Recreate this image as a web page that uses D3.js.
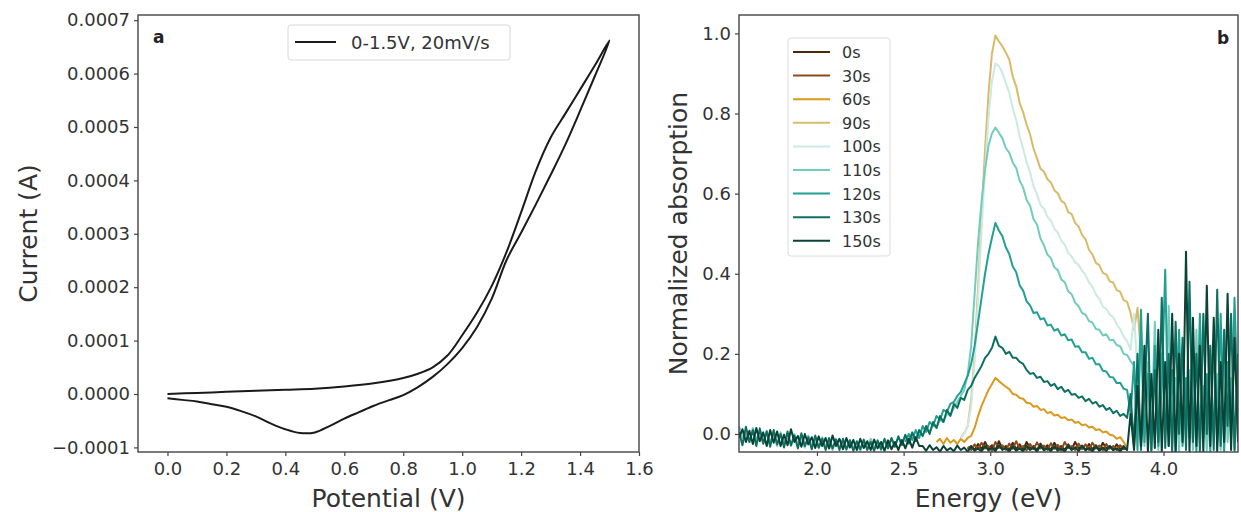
<!DOCTYPE html>
<html><head><meta charset="utf-8">
<script src="https://cdn.jsdelivr.net/npm/d3@7"></script>
<style>
body{margin:0;background:#fff;}
text{font-family:"DejaVu Sans",sans-serif;}
</style></head><body>
<svg id="chart" width="1241" height="512"></svg>
<script>
// ---------- Panel a: cyclic voltammogram ----------
const cvLegend = "0-1.5V, 20mV/s";
const cvForwardV = [0,0.1,0.2,0.3,0.4,0.5,0.6,0.7,0.8,0.85,0.9,0.95,1.0,1.05,1.1,1.15,1.2,1.25,1.3,1.35,1.4,1.45,1.5];
const cvForwardI = [0.0e-4,0.02e-4,0.04e-4,0.06e-4,0.08e-4,0.10e-4,0.14e-4,0.20e-4,0.30e-4,0.38e-4,0.50e-4,0.72e-4,1.10e-4,1.52e-4,2.02e-4,2.65e-4,3.40e-4,4.18e-4,4.80e-4,5.25e-4,5.70e-4,6.15e-4,6.62e-4];
const cvBackwardV = [1.5,1.45,1.4,1.35,1.3,1.25,1.2,1.15,1.1,1.05,1.0,0.95,0.9,0.85,0.8,0.75,0.7,0.65,0.6,0.55,0.5,0.45,0.4,0.35,0.3,0.25,0.2,0.15,0.1,0.05,0.0];
const cvBackwardI = [6.62e-4,5.95e-4,5.30e-4,4.67e-4,4.10e-4,3.55e-4,3.02e-4,2.50e-4,1.78e-4,1.25e-4,0.86e-4,0.56e-4,0.32e-4,0.13e-4,-0.02e-4,-0.12e-4,-0.22e-4,-0.34e-4,-0.46e-4,-0.60e-4,-0.72e-4,-0.73e-4,-0.66e-4,-0.55e-4,-0.42e-4,-0.32e-4,-0.24e-4,-0.19e-4,-0.14e-4,-0.11e-4,-0.08e-4];
const cvXTicks = [0.0,0.2,0.4,0.6,0.8,1.0,1.2,1.4,1.6];
const cvYTicks = [-0.0001,0.0,0.0001,0.0002,0.0003,0.0004,0.0005,0.0006,0.0007];

// ---------- Panel b: absorption spectra (0.02 eV sampling from each start energy) ----------
const specLabels = ["0s","30s","60s","90s","100s","110s","120s","130s","150s"];
const specStart  = [2.87, 2.87, 2.69, 2.83, 2.83, 1.55, 2.51, 1.55, 1.55];
const specStep = 0.02;
const abs0s = [-0.038,-0.03,-0.04,-0.025,-0.038,-0.02,-0.036,-0.028,-0.04,-0.018,-0.036,-0.03,-0.04,-0.022,-0.038,-0.026,-0.04,-0.02,-0.035,-0.03,-0.04,-0.024,-0.038,-0.028,-0.04,-0.022,-0.036,-0.03,-0.04,-0.026,-0.038,-0.02,-0.036,-0.03,-0.04,-0.025,-0.038,-0.028,-0.04,-0.022,-0.036,-0.03,-0.04,-0.026,-0.038,-0.03,-0.04];
const abs30s = [-0.032,-0.04,-0.026,-0.038,-0.022,-0.036,-0.03,-0.042,-0.02,-0.035,-0.028,-0.04,-0.024,-0.037,-0.018,-0.036,-0.03,-0.041,-0.025,-0.038,-0.021,-0.036,-0.029,-0.04,-0.023,-0.037,-0.027,-0.041,-0.02,-0.035,-0.03,-0.04,-0.024,-0.038,-0.026,-0.04,-0.022,-0.036,-0.029,-0.041,-0.025,-0.037,-0.03,-0.04,-0.028,-0.038,-0.035];
const abs60s = [-0.02,-0.012,-0.025,-0.01,-0.022,-0.015,-0.025,-0.012,-0.02,-0.01,-0.005,0.015,0.045,0.07,0.09,0.11,0.125,0.14,0.132,0.125,0.118,0.112,0.1,0.098,0.09,0.088,0.078,0.077,0.068,0.07,0.06,0.062,0.052,0.055,0.046,0.048,0.04,0.042,0.034,0.036,0.028,0.03,0.022,0.024,0.016,0.018,0.01,0.012,0.004,0.006,-0.002,-0.004,-0.012,-0.008,-0.02,-0.035];
const abs90s = [-0.01,0.002,0.02,0.085,0.2,0.37,0.55,0.71,0.85,0.95,0.995,0.98,0.968,0.952,0.935,0.892,0.868,0.826,0.803,0.772,0.748,0.712,0.688,0.662,0.655,0.636,0.628,0.608,0.601,0.582,0.576,0.554,0.549,0.527,0.518,0.497,0.486,0.46,0.448,0.427,0.421,0.402,0.398,0.381,0.378,0.359,0.355,0.334,0.33,0.302,0.26,0.315,0.2];
const abs100s = [-0.01,0.0,0.02,0.07,0.18,0.34,0.51,0.66,0.79,0.88,0.925,0.918,0.902,0.876,0.852,0.812,0.784,0.742,0.713,0.678,0.653,0.618,0.598,0.572,0.563,0.542,0.533,0.512,0.503,0.482,0.473,0.452,0.443,0.428,0.422,0.408,0.397,0.378,0.368,0.348,0.338,0.318,0.312,0.298,0.292,0.273,0.262,0.243,0.232,0.21,0.3,0.15,0.28,0.1,0.22,0.05,0.18,0.0];
const abs110s = [0.02,-0.01,0.0,-0.02,0.015,-0.015,0.005,-0.025,0.008,-0.02,-0.002,-0.03,0.004,-0.025,-0.006,-0.03,0.0,-0.026,-0.01,-0.034,-0.004,-0.03,-0.014,-0.036,-0.008,-0.03,-0.018,-0.04,-0.012,-0.032,-0.02,-0.04,-0.015,-0.034,-0.022,-0.042,-0.018,-0.036,-0.012,-0.034,-0.02,-0.04,-0.016,-0.034,-0.012,-0.03,-0.008,-0.026,-0.004,-0.02,0.002,-0.012,0.008,
 -0.004,0.015,0.005,0.025,0.015,0.035,0.03,0.05,0.048,0.065,0.08,0.095,0.11,0.15,0.22,0.35,0.48,0.58,0.66,0.72,0.75,0.765,0.752,0.738,0.714,0.702,0.678,0.664,0.632,0.615,0.584,0.57,0.536,0.523,0.488,0.471,0.448,0.439,0.416,0.409,0.386,0.379,0.356,0.349,0.328,0.319,0.302,0.298,0.282,0.278,0.262,0.26,0.246,0.249,0.234,0.235,0.222,0.219,0.2,0.197,0.182,0.17,
 0.05,0.25,-0.03,0.18,-0.01,0.28,-0.04,0.2,0.0,0.32,-0.03,0.14,-0.045,0.22,-0.01,0.16,-0.04,0.26,-0.01,0.12,-0.045,0.2,0.0,0.15,-0.04,0.22,-0.02,0.14,-0.045,0.18];
const abs120s = [-0.02,0.0,-0.015,0.01,-0.01,0.02,0.005,0.03,0.02,0.045,0.035,0.06,0.055,0.075,0.08,0.095,0.105,0.125,0.145,0.175,0.22,0.28,0.34,0.4,0.45,0.49,0.527,0.508,0.494,0.466,0.449,0.418,0.404,0.371,0.358,0.331,0.321,0.302,0.304,0.286,0.289,0.271,0.273,0.258,0.262,0.246,0.249,0.234,0.236,0.218,0.219,0.204,0.204,0.188,0.19,0.174,0.174,0.158,0.156,0.142,0.141,0.127,0.128,0.113,0.11,
 0.05,0.18,-0.04,0.31,-0.02,0.15,-0.045,0.22,-0.03,0.12,0.41,-0.03,0.16,-0.045,0.26,-0.03,0.14,-0.01,0.2,-0.045,0.3,-0.01,0.15,-0.045,0.24,-0.02,0.3,-0.045,0.18,-0.01,0.34,0.05];
const abs130s = [0.005,-0.028,0.018,-0.02,0.01,-0.03,0.014,-0.024,0.006,-0.032,0.01,-0.026,0.0,-0.034,0.006,-0.028,-0.004,-0.036,0.002,-0.03,-0.008,-0.038,-0.004,-0.034,-0.012,-0.04,-0.01,-0.036,-0.014,-0.04,-0.012,-0.038,-0.016,-0.042,-0.018,-0.038,-0.014,-0.04,-0.02,-0.042,-0.016,-0.038,-0.012,-0.036,-0.01,-0.032,-0.006,-0.028,-0.002,-0.024,0.004,-0.018,0.01,
 -0.005,0.02,0.0,0.03,0.015,0.045,0.03,0.06,0.045,0.075,0.065,0.09,0.085,0.11,0.12,0.14,
 0.155,0.17,0.19,0.2,0.215,0.243,0.22,0.215,0.2,0.205,0.19,0.19,0.18,0.175,0.16,0.15,0.152,0.14,0.143,0.13,0.132,0.12,0.125,0.112,0.118,0.105,0.11,0.098,0.1,0.09,0.094,0.082,0.088,0.076,0.08,0.068,0.072,0.06,0.065,0.052,0.058,0.045,0.05,0.04,
 0.1,-0.03,0.2,-0.04,0.1,0.3,-0.04,0.16,-0.02,0.34,-0.035,0.2,-0.045,0.28,0.0,0.24,-0.04,0.38,-0.02,0.2,-0.045,0.3,0.0,0.22,-0.04,0.36,-0.03,0.26,0.02,0.3,-0.04,0.2];
const abs150s = [-0.01,0.012,-0.02,0.008,-0.025,0.015,-0.018,0.004,-0.03,0.01,-0.022,0.006,-0.03,-0.002,-0.028,0.012,-0.02,-0.005,-0.032,0.0,-0.026,-0.008,-0.035,-0.006,-0.03,-0.01,-0.036,-0.004,-0.03,-0.012,-0.038,-0.01,-0.034,-0.015,-0.04,-0.012,-0.035,-0.018,-0.04,-0.014,-0.036,-0.02,-0.042,-0.016,-0.038,-0.02,-0.04,-0.015,-0.036,-0.012,-0.034,-0.008,-0.03,
 -0.03,-0.042,-0.028,-0.04,-0.033,-0.044,-0.03,-0.041,-0.035,-0.043,-0.029,-0.04,-0.034,-0.044,-0.031,-0.042,-0.036,-0.044,-0.03,-0.041,-0.034,-0.043,-0.028,-0.04,-0.035,-0.044,-0.031,-0.042,-0.036,-0.043,-0.03,-0.04,-0.034,-0.044,-0.029,-0.041,-0.035,-0.043,-0.031,-0.042,-0.036,-0.044,-0.03,-0.04,-0.033,-0.043,-0.029,-0.041,-0.035,-0.044,-0.031,-0.042,-0.034,-0.043,-0.03,-0.04,-0.036,-0.044,-0.032,-0.04,
 0.05,-0.04,0.12,-0.03,0.22,-0.045,0.15,-0.035,0.26,-0.045,0.18,-0.03,0.3,-0.045,0.2,-0.02,0.455,-0.045,0.29,-0.03,0.22,-0.045,0.37,-0.03,0.29,-0.045,0.18,-0.02,0.35,-0.04,0.24,-0.02];
const specValues = [abs0s, abs30s, abs60s, abs90s, abs100s, abs110s, abs120s, abs130s, abs150s];
const specColors = ["#4a2a0c","#8c4b1c","#d99a1e","#d8bb68","#cde9e3","#72ccbe","#22a091","#0e7062","#0a4236"];
const specXTicks = [2.0,2.5,3.0,3.5,4.0];
const specYTicks = [0.0,0.2,0.4,0.6,0.8,1.0];

// ---------- drawing ----------
const svg = d3.select("#chart");
const axisColor = "#444";

function drawFrame(g, x0, x1, y0, y1){
  g.append("rect").attr("x",x0).attr("y",y0).attr("width",x1-x0).attr("height",y1-y0)
   .attr("fill","none").attr("stroke",axisColor).attr("stroke-width",1.4);
}
function styleAxis(sel, fs){
  sel.select(".domain").remove();
  sel.selectAll(".tick line").attr("stroke",axisColor).attr("stroke-width",1.2);
  sel.selectAll(".tick text").attr("fill","#333").style("font-size",fs+"px").style("font-family","DejaVu Sans");
}

// Panel a
const ax = d3.scaleLinear().domain([-0.1,1.6]).range([138,639]);
const ay = d3.scaleLinear().domain([-0.0001086,0.0007097]).range([452,15]);
const ga = svg.append("g");
const axA = ga.append("g").attr("transform","translate(0,452)")
  .call(d3.axisBottom(ax).tickValues(cvXTicks).tickFormat(d3.format(".1f")).tickSize(4).tickPadding(6));
styleAxis(axA,18);
const ayA = ga.append("g").attr("transform","translate(138,0)")
  .call(d3.axisLeft(ay).tickValues(cvYTicks).tickFormat(d3.format(".4f")).tickSize(4).tickPadding(4));
styleAxis(ayA,18);

const cvPts = cvForwardV.map((v,i)=>[v,cvForwardI[i]]).concat(cvBackwardV.map((v,i)=>[v,cvBackwardI[i]]).slice(1));
ga.append("path").attr("d", d3.line().x(d=>ax(d[0])).y(d=>ay(d[1])).curve(d3.curveCatmullRom.alpha(0.5))(cvPts))
  .attr("fill","none").attr("stroke","#1a1a1a").attr("stroke-width",2);
drawFrame(ga,138,639,15,452);

ga.append("text").attr("x",388.5).attr("y",507).attr("text-anchor","middle").style("font-size","25px").attr("fill","#333").text("Potential (V)");
ga.append("text").attr("transform","translate(37,233.5) rotate(-90)").attr("text-anchor","middle").style("font-size","25px").attr("fill","#333").text("Current (A)");
ga.append("text").attr("x",153).attr("y",43).style("font-size","17px").style("font-weight","bold").attr("fill","#222").text("a");
// legend a
ga.append("rect").attr("x",288).attr("y",25).attr("width",222).attr("height",35).attr("rx",3)
  .attr("fill","#fff").attr("stroke","#d8d8d8").attr("stroke-width",1);
ga.append("line").attr("x1",295).attr("x2",336).attr("y1",42).attr("y2",42).attr("stroke","#1a1a1a").attr("stroke-width",2);
ga.append("text").attr("x",351).attr("y",49).style("font-size",  "18px").attr("fill","#333").text(cvLegend);

// Panel b
const bx = d3.scaleLinear().domain([1.55,4.43]).range([739,1238]);
const by = d3.scaleLinear().domain([-0.045,1.046]).range([452,15]);
const gb = svg.append("g");
const clip = svg.append("defs").append("clipPath").attr("id","clipb");
clip.append("rect").attr("x",739).attr("y",15).attr("width",499).attr("height",437);
const axB = gb.append("g").attr("transform","translate(0,452)")
  .call(d3.axisBottom(bx).tickValues(specXTicks).tickFormat(d3.format(".1f")).tickSize(4).tickPadding(6));
styleAxis(axB,18);
const ayB = gb.append("g").attr("transform","translate(739,0)")
  .call(d3.axisLeft(by).tickValues(specYTicks).tickFormat(d3.format(".1f")).tickSize(4).tickPadding(4));
styleAxis(ayB,18);

const lineB = d3.line().x(d=>bx(d[0])).y(d=>by(d[1]));
const plotB = gb.append("g").attr("clip-path","url(#clipb)");
specValues.forEach((vals,si)=>{
  const pts = vals.map((v,i)=>[specStart[si]+i*specStep, v]);
  plotB.append("path").attr("d",lineB(pts)).attr("fill","none")
    .attr("stroke",specColors[si]).attr("stroke-width",2).attr("stroke-linejoin","round");
});
drawFrame(gb,739,1238,15,452);

gb.append("text").attr("x",988.5).attr("y",507).attr("text-anchor","middle").style("font-size","25px").attr("fill","#333").text("Energy (eV)");
gb.append("text").attr("transform","translate(687,233.5) rotate(-90)").attr("text-anchor","middle").style("font-size","25px").attr("fill","#333").text("Normalized absorption");
gb.append("text").attr("x",1217).attr("y",44).style("font-size","17px").style("font-weight","bold").attr("fill","#222").text("b");

// legend b
gb.append("rect").attr("x",788).attr("y",38).attr("width",102).attr("height",218).attr("rx",3)
  .attr("fill","#fff").attr("stroke","#dcdcdc").attr("stroke-width",1);
specLabels.forEach((lab,i)=>{
  const yy = 52 + i*23.6;
  gb.append("line").attr("x1",793).attr("x2",830).attr("y1",yy).attr("y2",yy).attr("stroke",specColors[i]).attr("stroke-width",2);
  gb.append("text").attr("x",842).attr("y",yy+6).style("font-size","16px").attr("fill","#333").text(lab);
});
</script>
</body></html>
